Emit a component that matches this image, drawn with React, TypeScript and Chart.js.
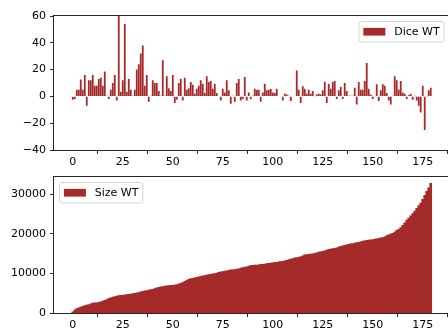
import React, { useEffect, useRef } from "react";
import { Chart, registerables } from "chart.js";

Chart.register(...registerables);

// Dice WT values (index 0..179)
const diceWT = [
  -2.5, -2, 5, 5, 12.7, 5, 16, -7, 12, 12,
  16, 8, 8, 13, 14, 8, 18.5, 0.5, -2, 5,
  10, 16, -3, 62, 3.5, 12, 54, 3.5, 13, 5,
  0.5, 5, 20, 24, 32, 38, 8, 16, -4, 0.5,
  12, 10, 10, 4, 0.5, 27, 0.5, 15, 6, 4,
  16, -5, -2.5, 10, 13, -3, 14, 5, 6, 10.7,
  8.7, 2, 5.7, 8, 12, 9.5, 2.5, 15, 10.7, 11.5,
  5.7, 9.5, 2.5, 0.3, -3, 5.7, 3, 12, 4.5, -5.5,
  0.5, -4, 10, 13, -3, -2, 14.5, -3, 3, -2,
  0.5, 5.7, 5, 5, -4, 3, 9.5, 4.5, 5, 5.5,
  3, 2.5, 5.7, 0.3, 0.3, -3, 2, 1.5, 0.5, -3.5,
  0.3, 0.3, 19.4, 5, -5, 7.5, 5.7, 2, 5, 2,
  4, -0.5, 1.5, 2, 1.5, 4.5, 11, -5, 9.5, 5.7,
  10.7, 11.5, -2, 4.5, 7, -2, 10, 4, 0.5, 0.5,
  0.5, 6.5, -6, 10.7, 5, 5, 11.5, 25, 5.7, 1.5,
  -2, -0.5, 9, -3.5, 4.5, 9, 8, 2.5, -3, -6,
  0.5, 15, 12, 5, 11.5, 3, 2, -2, 1, 2,
  -2.5, 0.5, -3, -7, -12, 8, -25, -0.5, 4.5, 6.5,
];

// Size WT values (index 0..179)
const sizeWT = [
  300, 800, 1100, 1300, 1500, 1700, 1900, 2000, 2100, 2300,
  2500, 2550, 2600, 2700, 2800, 3000, 3200, 3400, 3700, 3850,
  4000, 4150, 4300, 4400, 4450, 4500, 4600, 4650, 4750, 4800,
  4900, 5000, 5100, 5200, 5350, 5500, 5600, 5700, 5800, 5900,
  6000, 6200, 6400, 6500, 6600, 6700, 6800, 6900, 6950, 7000,
  7000, 7050, 7200, 7350, 7500, 7700, 8000, 8300, 8500, 8700,
  8800, 8900, 9000, 9150, 9300, 9400, 9500, 9600, 9700, 9800,
  9900, 10000, 10100, 10300, 10400, 10500, 10600, 10700, 10800, 10900,
  10950, 11000, 11100, 11200, 11350, 11500, 11600, 11700, 11850, 12000,
  12050, 12100, 12150, 12200, 12300, 12350, 12400, 12500, 12600, 12650,
  12700, 12800, 12850, 12950, 13000, 13100, 13200, 13350, 13500, 13650,
  13800, 13950, 14050, 14100, 14300, 14500, 14700, 14800, 14850, 14900,
  15000, 15100, 15250, 15400, 15500, 15600, 15750, 15900, 16100, 16200,
  16300, 16400, 16500, 16700, 16850, 17000, 17100, 17250, 17400, 17500,
  17600, 17700, 17800, 17900, 18000, 18200, 18300, 18400, 18450, 18500,
  18600, 18700, 18800, 18900, 19000, 19100, 19300, 19600, 19800, 20000,
  20200, 20500, 20900, 21200, 21600, 22200, 22800, 23500, 24000, 24600,
  25200, 25800, 26500, 27200, 27800, 28800, 29800, 30800, 31700, 32800,
];

const xTicks = [0, 25, 50, 75, 100, 125, 150, 175];
const diceTicks = [-40, -20, 0, 20, 40, 60];
const sizeTicks = [0, 10000, 20000, 30000];

const BROWN = "#a52a2a";
const FONT = "'DejaVu Sans', sans-serif";
const FS = 11;

const framePlugin = {
  id: "mplFrame",
  afterDatasetsDraw(chart: any) {
    const { ctx, chartArea: a } = chart;
    ctx.save();
    ctx.strokeStyle = "#111";
    ctx.lineWidth = 0.9;
    ctx.strokeRect(a.left - 0.5, a.top - 0.5, a.right - a.left + 1, a.bottom - a.top + 1);
    ctx.restore();
  },
};

function legendPlugin(side: "left" | "right") {
  return {
    id: "mplLegend",
    afterDraw(chart: any) {
      const { ctx, chartArea: a } = chart;
      const ds = chart.data.datasets[0];
      const label = ds.label as string;
      ctx.save();
      ctx.font = `${FS}px ${FONT}`;
      const tw = ctx.measureText(label).width;
      const pad = 0.4 * FS;
      const hl = 2 * FS;
      const htp = 0.8 * FS;
      const bap = 0.5 * FS;
      const w = pad + hl + htp + tw + pad;
      const h = 20.5;
      const x0 = side === "right" ? a.right - bap - w : a.left + bap;
      const y0 = a.top + bap;
      ctx.beginPath();
      if ((ctx as any).roundRect) (ctx as any).roundRect(x0, y0, w, h, 2.5);
      else ctx.rect(x0, y0, w, h);
      ctx.fillStyle = "rgba(255,255,255,0.8)";
      ctx.fill();
      ctx.strokeStyle = "rgba(204,204,204,0.85)";
      ctx.lineWidth = 1;
      ctx.stroke();
      const cy = y0 + h / 2;
      ctx.fillStyle = ds.backgroundColor;
      ctx.fillRect(x0 + pad, cy - 0.35 * FS, hl, 0.7 * FS);
      ctx.fillStyle = "#000";
      ctx.textBaseline = "middle";
      ctx.textAlign = "left";
      ctx.fillText(label, x0 + pad + hl + htp, cy + 0.5);
      ctx.restore();
    },
  };
}

function makeConfig(
  values: number[],
  label: string,
  yMin: number,
  yMax: number,
  yTicks: number[],
  fmt: (v: number) => string,
  side: "left" | "right",
  xAxisH: number,
  barPct: number
): any {
  const gridOpts = {
    display: true,
    drawOnChartArea: false,
    drawTicks: true,
    tickLength: 4,
    color: "#111",
    lineWidth: 0.9,
  };
  return {
    type: "bar",
    data: {
      datasets: [
        {
          label,
          data: values.map((v, i) => ({ x: i, y: v })),
          backgroundColor: BROWN,
          borderWidth: 0,
          barPercentage: barPct,
          categoryPercentage: 1.0,
        },
      ],
    },
    options: {
      animation: false,
      responsive: false,
      events: [],
      layout: { padding: { top: 16, right: 0.5, left: 0, bottom: 0 } },
      plugins: { legend: { display: false }, tooltip: { enabled: false } },
      scales: {
        x: {
          type: "linear",
          min: -9.39,
          max: 188.39,
          offset: false,
          afterBuildTicks: (s: any) => {
            s.ticks = xTicks.map((v) => ({ value: v }));
          },
          afterFit: (s: any) => {
            s.height = xAxisH;
          },
          grid: gridOpts,
          border: { display: false },
          ticks: {
            color: "#000",
            font: { family: FONT, size: FS },
            padding: 2,
            maxRotation: 0,
            autoSkip: false,
            callback: (v: any) => String(v),
          },
        },
        y: {
          type: "linear",
          min: yMin,
          max: yMax,
          afterBuildTicks: (s: any) => {
            s.ticks = yTicks.map((v) => ({ value: v }));
          },
          afterFit: (s: any) => {
            s.width = 54;
          },
          grid: gridOpts,
          border: { display: false },
          ticks: {
            color: "#000",
            font: { family: FONT, size: FS },
            padding: 4,
            autoSkip: false,
            callback: (v: any) => fmt(Number(v)),
          },
        },
      },
    },
    plugins: [framePlugin, legendPlugin(side)],
  };
}

export default function App() {
  const topRef = useRef<HTMLCanvasElement | null>(null);
  const botRef = useRef<HTMLCanvasElement | null>(null);

  useEffect(() => {
    const c1 = new Chart(
      topRef.current as HTMLCanvasElement,
      makeConfig(diceWT, "Dice WT", -40, 60, diceTicks, (v) => String(v).replace("-", "\u2212"), "right", 22, 0.9)
    );
    const c2 = new Chart(
      botRef.current as HTMLCanvasElement,
      makeConfig(sizeWT, "Size WT", 0, 34430, sizeTicks, (v) => String(v), "left", 16, 1.0)
    );
    return () => {
      c1.destroy();
      c2.destroy();
    };
  }, []);

  return (
    <div
      style={{
        position: "fixed",
        left: 0,
        top: 0,
        width: 448,
        height: 329,
        overflow: "hidden",
        background: "#fff",
      }}
    >
      <canvas
        ref={botRef}
        width={450}
        height={168}
        style={{ position: "absolute", left: 0, top: 161, width: 450, height: 168 }}
      />
      <canvas
        ref={topRef}
        width={450}
        height={172}
        style={{ position: "absolute", left: 0, top: 0, width: 450, height: 172 }}
      />
    </div>
  );
}
